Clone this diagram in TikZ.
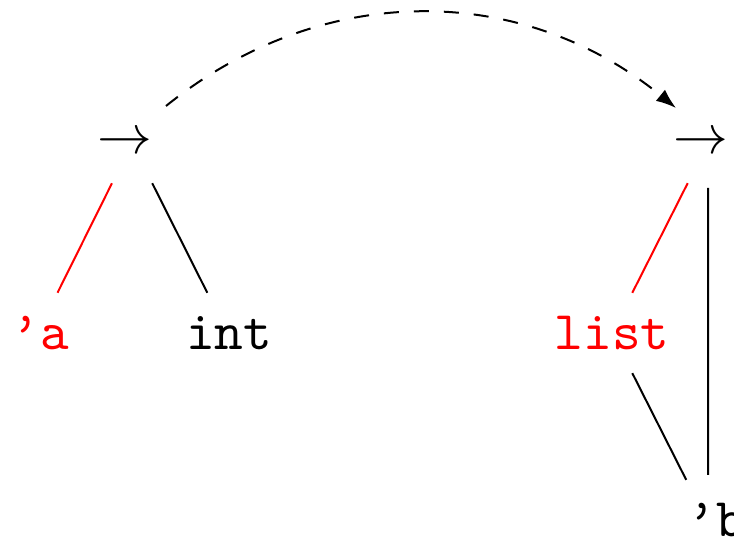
\documentclass[tikz,border=0pt]{standalone}
\usetikzlibrary{arrows.meta}
\begin{document}
\begin{tikzpicture}[x=0.2pt,y=-0.2pt,
  lbl/.style={inner sep=0pt,font=\fontsize{10.9}{13}\selectfont\ttfamily},
  edge/.style={line width=0.4pt,shorten <=9pt,shorten >=9pt},
  redge/.style={edge,red}]
\useasboundingbox (0,0) rectangle (734,541);
\node[lbl] (arr1) at (125,143) {$\rightarrow$};
\node[lbl] (arr2) at (701,143) {$\rightarrow$};
\node[lbl,text=red] (qa) at (40,333) {’a};
\node[lbl] (int) at (229,333) {int};
\node[lbl,text=red] (list) at (612,333) {list};
\node[lbl] (qb) at (716,520) {’b};
\draw[redge] ([xshift=1.4pt]arr1.center) -- ([xshift=-0.5pt]qa.center);
\draw[edge] ([xshift=1.4pt]arr1.center) -- ([xshift=-0.3pt]int.center);
\draw[redge] ([xshift=1.4pt]arr2.center) -- (list.center);
\draw[edge] ([xshift=1.4pt]arr2.center) -- ([xshift=-1.6pt]qb.center);
\draw[edge] (list.center) -- ([xshift=-1.9pt]qb.center);
\draw[dashed,-{Latex[length=4pt,width=2.9pt]}]
  ([xshift=8.2pt,yshift=7.4pt]arr1.center) to[bend left=39]
  ([xshift=-5pt,yshift=7pt]arr2.center);
\end{tikzpicture}
\end{document}
